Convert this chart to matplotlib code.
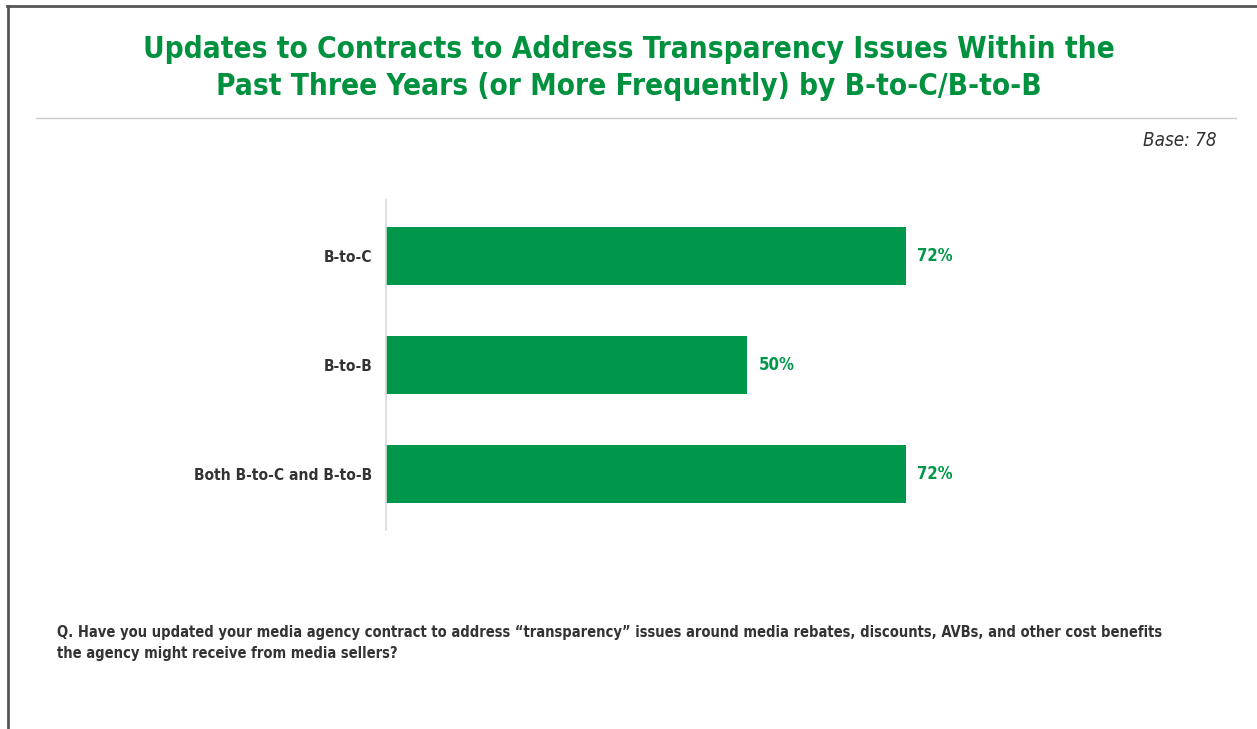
import matplotlib.pyplot as plt
from matplotlib.lines import Line2D

categories = ["B-to-C", "B-to-B", "Both B-to-C and B-to-B"]
values = [72, 50, 72]

green = "#00974A"
title_green = "#00913F"
dark = "#333333"
font = ["DejaVu Sans"]

fig = plt.figure(figsize=(12.57, 7.29), dpi=100)
fig.patch.set_facecolor("white")

# frame lines: top and left edge, separator under the title
fig.add_artist(Line2D([7 / 1257, 1], [1 - 6 / 729, 1 - 6 / 729], color="#555555", lw=2))
fig.add_artist(Line2D([7.5 / 1257, 7.5 / 1257], [0, 1 - 6 / 729], color="#555555", lw=2))
fig.add_artist(Line2D([36 / 1257, 1236 / 1257], [1 - 118 / 729, 1 - 118 / 729], color="#cccccc", lw=1))

fig.text(0.5, 1 - 68 / 729,
         "Updates to Contracts to Address Transparency Issues Within the\n"
         "Past Three Years (or More Frequently) by B-to-C/B-to-B",
         ha="center", va="center", fontsize=21.3, fontweight="bold", fontstretch="condensed",
         color=title_green, family=font, linespacing=1.35)

fig.text(1217 / 1257, 1 - 140 / 729, "Base: 78", ha="right", va="center",
         fontsize=13.5, style="italic", fontstretch="condensed", color=dark, family=font)

fig.text(57 / 1257, 1 - 643 / 729,
         "Q. Have you updated your media agency contract to address \u201ctransparency\u201d issues around media rebates, discounts, AVBs, and other cost benefits\n"
         "the agency might receive from media sellers?",
         ha="left", va="center", fontsize=10.5, fontweight="bold", fontstretch="condensed",
         color=dark, family=font, linespacing=1.5)

# bar chart area: zero at x=386, 100% at x=1108
ax = fig.add_axes([386 / 1257, 1 - 530 / 729, 722 / 1257, 330 / 729])
ypos = list(range(len(categories)))
ax.barh(ypos, values, height=0.53, color=green)
ax.set_xlim(0, 100)
ax.set_ylim(len(categories) - 0.49, -0.51)
ax.set_yticks(ypos)
ax.set_yticklabels(categories, fontsize=11.2, fontweight="bold", fontstretch="condensed",
                   color=dark, family=font)
ax.tick_params(axis="y", length=0, pad=10)
ax.set_xticks([])
for side in ["top", "right", "bottom"]:
    ax.spines[side].set_visible(False)
ax.spines["left"].set_color("#d9d9d9")
ax.spines["left"].set_linewidth(1.2)

for y, v in zip(ypos, values):
    ax.text(v + 1.6, y, f"{v}%", va="center", ha="left", fontsize=12,
            fontweight="bold", fontstretch="condensed", color=green, family=font)

fig.savefig("out.png", dpi=100, facecolor="white")
